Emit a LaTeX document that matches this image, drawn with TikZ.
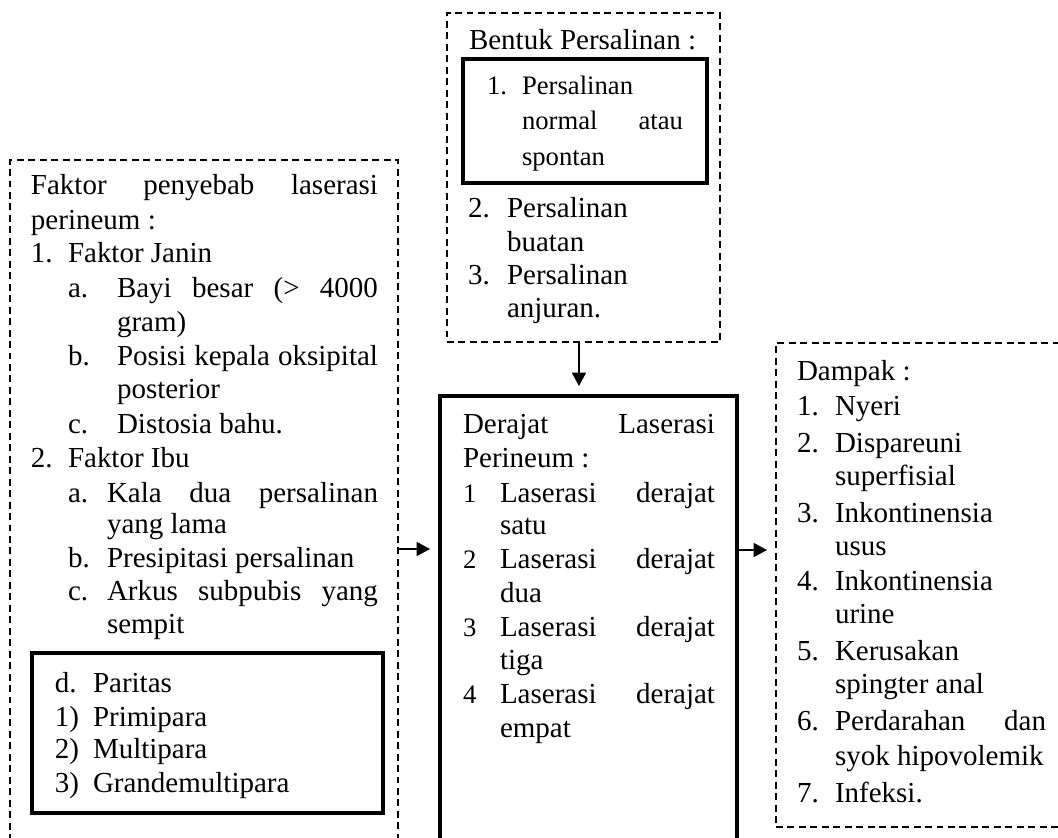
\documentclass[tikz,border=0pt]{standalone}
\usepackage{fontspec}
\setmainfont{Liberation Serif}
\usetikzlibrary{arrows.meta,fit,calc}
\tikzset{
  dashbox/.style={draw, line width=0.8pt, dash pattern=on 5.2pt off 3.4pt, inner sep=0pt, outer sep=0pt},
  thickbox/.style={draw, line width=3pt, inner sep=0pt, outer sep=0pt},
  txt/.style={anchor=base west, inner sep=0pt, outer sep=0pt, font=\fontsize{21.75pt}{25pt}\selectfont},
  stxt/.style={anchor=base west, inner sep=0pt, outer sep=0pt, font=\fontsize{20pt}{24pt}\selectfont},
  arr/.style={line width=1.1pt, -{Triangle[length=10pt,width=10.5pt]}}
}
\begin{document}
\begin{tikzpicture}[x=0.75pt,y=-0.75pt]
\useasboundingbox[fill=white] (0,0) rectangle (1058,838);
\begin{scope}
\clip (0,0) rectangle (1058,838);
% boxes
\node[dashbox, fit={(447,13) (720,342)}] (bentuk) {};
\node[thickbox, line width=2.6pt, fit={(463,59) (707,183)}] (normalbox) {};
\node[dashbox, fit={(10,160) (398,900)}] (faktor) {};
\node[thickbox, fit={(32,653) (383,813)}] (paritas) {};
\node[thickbox, fit={(440,396) (737,900)}] (derajat) {};
\node[dashbox, fit={(776,343) (1100,827)}] (dampak) {};
\end{scope}
% arrows
\coordinate (ly) at (0,549);
\coordinate (ry) at (0,550);
\draw[arr, shorten >=7.5pt] ([xshift=-3.4pt]bentuk.south) -- ([xshift=-3.4pt]bentuk.south |- derajat.north);
\draw[arr, shorten >=7.5pt] (faktor.east |- ly) -- (derajat.west |- ly);
\draw[arr, shorten >=6.75pt] (derajat.east |- ry) -- (dampak.west |- ry);
% Bentuk persalinan
\node[txt] (b0) at (469,50) {Bentuk Persalinan :};
\node[stxt] (b1n) at (487,95) {1.};
\node[stxt] (b1a) at (522,95) {Persalinan};
\node[stxt] (b1b) at (522,130) {\makebox[120.75pt][s]{normal atau}};
\node[stxt] (b1c) at (522,166) {spontan};
\node[txt] (b2n) at (468,218) {2.};
\node[txt] (b2a) at (507,218) {Persalinan};
\node[txt] (b2b) at (507,252) {buatan};
\node[txt] (b3n) at (468,285) {3.};
\node[txt] (b3a) at (507,285) {Persalinan};
\node[txt] (b3b) at (507,318) {anjuran.};
% Faktor
\node[txt] (f0) at (31,195) {\makebox[260.25pt][s]{Faktor penyebab laserasi}};
\node[txt] (f0b) at (31,230) {perineum :};
\node[txt] (f1n) at (31,263) {1.};
\node[txt] (f1) at (68,263) {Faktor Janin};
\node[txt] (f1an) at (68,298) {a.};
\node[txt] (f1a) at (117,298) {\makebox[195.75pt][s]{Bayi besar (> 4000}};
\node[txt] (f1a2) at (117,332) {gram)};
\node[txt] (f1bn) at (68,365) {b.};
\node[txt] (f1b) at (117,365) {\makebox[195.75pt][s]{Posisi kepala oksipital}};
\node[txt] (f1b2) at (117,398) {posterior};
\node[txt] (f1cn) at (68,433) {c.};
\node[txt] (f1c) at (117,433) {Distosia bahu.};
\node[txt] (f2n) at (31,467) {2.};
\node[txt] (f2) at (68,467) {Faktor Ibu};
\node[txt] (f2an) at (68,502) {a.};
\node[txt] (f2a) at (107,502) {\makebox[203.25pt][s]{Kala dua persalinan}};
\node[txt] (f2a2) at (107,533) {yang lama};
\node[txt] (f2bn) at (68,567) {b.};
\node[txt] (f2b) at (107,567) {Presipitasi persalinan};
\node[txt] (f2cn) at (68,600) {c.};
\node[txt] (f2c) at (107,600) {\makebox[203.25pt][s]{Arkus subpubis yang}};
\node[txt] (f2c2) at (107,633) {sempit};
\node[txt] (p0n) at (55,692) {d.};
\node[txt] (p0) at (93,692) {Paritas};
\node[txt] (p1n) at (55,726) {1)};
\node[txt] (p1) at (93,726) {Primipara};
\node[txt] (p2n) at (55,758) {2)};
\node[txt] (p2) at (93,758) {Multipara};
\node[txt] (p3n) at (55,792) {3)};
\node[txt] (p3) at (93,792) {Grandemultipara};
% Derajat
\node[txt] (d0) at (463,433) {\makebox[189pt][s]{Derajat Laserasi}};
\node[txt] (d0b) at (463,467) {Perineum :};
\node[stxt] (d1n) at (463,502) {1};
\node[txt] (d1) at (500,502) {\makebox[161.25pt][s]{Laserasi derajat}};
\node[txt] (d1b) at (500,534) {satu};
\node[stxt] (d2n) at (463,568) {2};
\node[txt] (d2) at (500,568) {\makebox[161.25pt][s]{Laserasi derajat}};
\node[txt] (d2b) at (500,602) {dua};
\node[stxt] (d3n) at (463,636) {3};
\node[txt] (d3) at (500,636) {\makebox[161.25pt][s]{Laserasi derajat}};
\node[txt] (d3b) at (500,669) {tiga};
\node[stxt] (d4n) at (463,703) {4};
\node[txt] (d4) at (500,703) {\makebox[161.25pt][s]{Laserasi derajat}};
\node[txt] (d4b) at (500,737) {empat};
% Dampak
\node[txt] (m0) at (797,380) {Dampak :};
\node[txt] (m1n) at (797,415) {1.};
\node[txt] (m1) at (835,415) {Nyeri};
\node[txt] (m2n) at (797,452) {2.};
\node[txt] (m2) at (835,452) {Dispareuni};
\node[txt] (m2b) at (835,485) {superfisial};
\node[txt] (m3n) at (797,522) {3.};
\node[txt] (m3) at (835,522) {Inkontinensia};
\node[txt] (m3b) at (835,555) {usus};
\node[txt] (m4n) at (797,590) {4.};
\node[txt] (m4) at (835,590) {Inkontinensia};
\node[txt] (m4b) at (835,623) {urine};
\node[txt] (m5n) at (797,660) {5.};
\node[txt] (m5) at (835,660) {Kerusakan};
\node[txt] (m5b) at (835,693) {spingter anal};
\node[txt] (m6n) at (797,730) {6.};
\node[txt] (m6) at (835,730) {\makebox[158.25pt][s]{Perdarahan dan}};
\node[txt] (m6b) at (835,765) {syok hipovolemik};
\node[txt] (m7n) at (797,802) {7.};
\node[txt] (m7) at (835,802) {Infeksi.};
\end{tikzpicture}
\end{document}
